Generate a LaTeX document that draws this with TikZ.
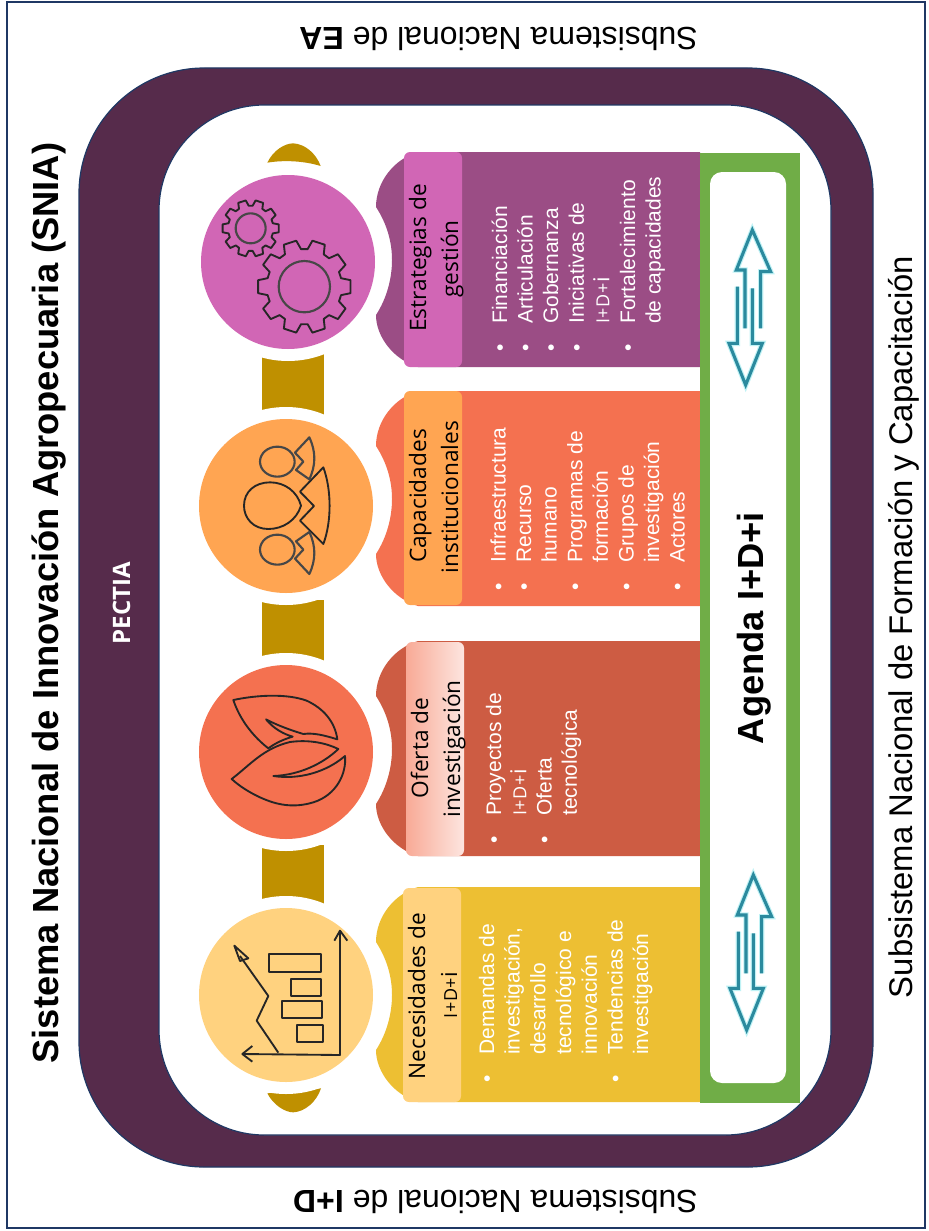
\documentclass[tikz,border=0pt]{standalone}
\usepackage{fontspec}
\setmainfont{Liberation Sans}
\newfontfamily\opensans{Open Sans}
\definecolor{navy}{HTML}{1F3864}
\definecolor{plum}{HTML}{562B4B}
\definecolor{gold}{HTML}{BF9000}
\definecolor{yelCard}{HTML}{EDBF33}
\definecolor{yelHead}{HTML}{FFD27F}
\definecolor{redCard}{HTML}{CD5C43}
\definecolor{redCirc}{HTML}{F47150}
\definecolor{orgHead}{HTML}{FFA552}
\definecolor{purCard}{HTML}{9B4D85}
\definecolor{purHead}{HTML}{D166B5}
\definecolor{grn}{HTML}{70AD47}
\definecolor{teal1}{HTML}{2B8A9E}
\definecolor{glow}{HTML}{BFF2F5}
\definecolor{ink}{HTML}{262626}
\newcommand{\idi}{{\opensans\fontsize{13.5pt}{14pt}\selectfont I\kern.4pt+\kern.4pt D\kern.4pt+\kern.4pt\fontsize{16.5pt}{14pt}\selectfont i}}
\newcommand{\bul}{\llap{•\hspace{15.5pt}}}
\newcommand{\cardshape}[2]{%
  \fill[#1] (700,#2) -- (418,#2) .. controls (394,{#2+7}) and (376,{#2+30}) .. (376,{#2+55})
    .. controls (387,{#2+72}) and (392,{#2+90}) .. (392,{#2+108})
    .. controls (392,{#2+126}) and (387,{#2+146}) .. (376,{#2+163})
    .. controls (376,{#2+185}) and (394,{#2+208}) .. (418,{#2+215}) -- (700,{#2+215}) -- cycle;}
\newcommand{\ringdisc}[3]{%
  \fill[white] (#1,#2) circle (99);
  \fill[#3] (#1,#2) circle (87);}
\newcommand{\gearicon}[4]{%
  \draw[iconline] ({#1+#3*cos(-13)},{#2-#3*sin(-13)}) \foreach \a in {0,36,...,324} {
     -- ({#1+#3*cos(\a-13)},{#2-#3*sin(\a-13)}) -- ({#1+#4*cos(\a-8)},{#2-#4*sin(\a-8)})
     -- ({#1+#4*cos(\a+8)},{#2-#4*sin(\a+8)}) -- ({#1+#3*cos(\a+13)},{#2-#3*sin(\a+13)}) } -- cycle;}
\newcommand{\arrowicon}[2]{%
  \begin{scope}[shift={(#1,#2)},x=.25pt,y=-.25pt]
    \foreach \c/\w in {glow/4pt,teal1/2.3pt}{
      \draw[\c,line width=\w,line join=miter] (138,310) -- (138,135) -- (112,135) -- (160,15) -- (215,140) -- (185,140) -- (185,310);
      \draw[\c,line width=\w,line join=miter] (115,185) -- (115,355) -- (90,355) -- (140,480) -- (190,355) -- (160,355) -- (160,190);
    }
  \end{scope}}
\tikzset{
  bodytxt/.style={rotate=90,anchor=base west,inner sep=0pt,text=white,font=\fontsize{15.75pt}{18pt}\selectfont},
  headtxt/.style={rotate=90,anchor=base,inner sep=0pt,text=black,font=\opensans\fontsize{17pt}{20pt}\selectfont},
  bigtxt/.style={inner sep=0pt,text=black,font=\fontsize{24pt}{26pt}\selectfont},
  titletxt/.style={rotate=90,anchor=base,inner sep=0pt,text=black,font=\bfseries\fontsize{27.25pt}{30pt}\selectfont},
  iconline/.style={draw=ink,line width=1.4pt,line join=round,fill=none},
  softline/.style={draw=ink!85,line width=1.6pt,line join=round,fill=none}
}
\begin{document}
\begin{tikzpicture}[x=.75pt,y=-.75pt]
\useasboundingbox (0,0) rectangle (928,1231);
% frame
\draw[navy,line width=1.1pt] (7,2) rectangle (925,1228);
% outer band
\draw[navy,line width=.9pt,fill=plum,rounded corners=94pt] (79,68) rectangle (873,1167);
\draw[navy,line width=.9pt,fill=white,rounded corners=79pt] (159,105) rectangle (831,1135);
% gold links and caps
\fill[gold] (262,350) rectangle (324,420);
\fill[gold] (262,600) rectangle (324,665);
\fill[gold] (262,845) rectangle (324,910);
\begin{scope}[shift={(190,130)},x=.25pt,y=-.25pt]
  \fill[gold] (232,98) .. controls (250,60) and (285,40) .. (310,40) .. controls (345,42) and (378,70) .. (392,108) .. controls (340,92) and (280,90) .. (232,98) -- cycle;
\end{scope}
\begin{scope}[shift={(190,880)},x=.25pt,y=-.25pt]
  \fill[gold] (232,640) .. controls (250,675) and (285,697) .. (310,697) .. controls (345,695) and (380,665) .. (393,625) -- cycle;
\end{scope}
% discs
\ringdisc{288}{262}{purHead}
\ringdisc{286}{506}{orgHead}
\ringdisc{286}{752}{redCirc}
\ringdisc{286}{995}{yelHead}
% cards
\cardshape{purCard}{152}
\cardshape{redCirc}{391}
\cardshape{redCard}{641}
\cardshape{yelCard}{887}
% header boxes
\fill[purHead,rounded corners=4.5pt] (404,152) rectangle (462,367);
\fill[orgHead,rounded corners=4.5pt] (404,391) rectangle (462,605);
\shade[left color=redCirc!60!white,right color=redCirc!18!white,rounded corners=4.5pt] (406,642) rectangle (464,856);
\fill[yelHead,rounded corners=4.5pt] (403,888) rectangle (461,1102);
% header text
\node[headtxt] (h1a) at (425,996) {Necesidades de};
\node[headtxt] (h1b) at (457,995) {\idi};
\node[headtxt] (h2a) at (428,748) {Oferta de};
\node[headtxt] (h2b) at (460,749) {investigación};
\node[headtxt] (h3a) at (426,496) {Capacidades};
\node[headtxt] (h3b) at (458,497) {institucionales};
\node[headtxt] (h4a) at (426,258) {Estrategias de};
\node[headtxt] (h4b) at (458,259) {gestión};
% body text
\foreach \t [count=\i from 0] in {\bul Demandas de,{investigación,},desarrollo,tecnológico e,innovación,\bul Tendencias de,investigación}
  \node[bodytxt] (yel\i) at ({494+25.7*\i},1055) {\t};
\foreach \t [count=\i from 0] in {\bul Proyectos de,\idi,\bul Oferta,tecnológica}
  \node[bodytxt] (red\i) at ({501+25.3*\i},816) {\t};
\foreach \t [count=\i from 0] in {\bul Infraestructura,\bul Recurso,humano,\bul Programas de,formación,\bul Grupos de,investigación,\bul Actores}
  \node[bodytxt] (org\i) at ({505.5+25.6*\i},563) {\t};
\foreach \t [count=\i from 0] in {\bul Financiación,\bul Articulación,\bul Gobernanza,\bul Iniciativas de,\idi,\bul Fortalecimiento,de capacidades}
  \node[bodytxt] (pur\i) at ({507+25.6*\i},324) {\t};
% agenda
\fill[grn] (700,153) rectangle (800,1103);
\fill[white,rounded corners=9pt] (710,172) rectangle (786,1083);
\arrowicon{699}{225}
\arrowicon{700}{870}
\node[titletxt] (agenda) at (763,628) {Agenda I+D+i};
% outer labels
\node[titletxt] (title) at (58,603) {Sistema Nacional de Innovación Agropecuaria (SNIA)};
\node[rotate=90,anchor=base,inner sep=0pt,text=white,font=\opensans\bfseries\fontsize{18pt}{20pt}\selectfont] (pectia) at (130,603) {PECTIA};
\node[bigtxt,rotate=180,anchor=base west] (sea) at (698,28) {Subsistema Nacional de \textbf{EA}};
\node[bigtxt,rotate=180,anchor=base west] (sid) at (698,1190) {Subsistema Nacional de \textbf{I+D}};
\node[bigtxt,rotate=90,anchor=base,font=\fontsize{24.6pt}{26pt}\selectfont] (sfc) at (912,627) {Subsistema Nacional de Formación y Capacitación};
% chart icon
\begin{scope}[shift={(190,880)},x=.25pt,y=-.25pt]
  \draw[iconline] (157,522) -- (450,525) -- (450,155);
  \draw[iconline] (187,498) -- (157,522) -- (187,545);
  \draw[iconline] (433,182) -- (450,152) -- (472,182);
  \draw[iconline] (238,222) rectangle (392,276);
  \draw[iconline] (302,296) rectangle (393,348);
  \draw[iconline] (276,362) rectangle (395,414);
  \draw[iconline] (322,434) rectangle (398,487);
  \draw[iconline] (265,518) -- (200,422) -- (235,348) -- (150,228);
  \draw[iconline] (133,197) -- (175,235) -- (150,243) -- cycle;
\end{scope}
% leaves icon
\begin{scope}[shift={(190,640)},x=.25pt,y=-.25pt]
  \draw[iconline] (130,180) .. controls (200,165) and (290,160) .. (350,182) .. controls (400,205) and (435,245) .. (442,298)
     .. controls (400,285) and (370,278) .. (340,282) .. controls (300,270) and (260,255) .. (228,238)
     .. controls (250,265) and (280,282) .. (308,290) .. controls (280,298) and (255,310) .. (235,325)
     .. controls (190,290) and (150,240) .. (130,180) -- cycle;
  \draw[iconline] (125,417) .. controls (180,375) and (220,325) .. (300,306) .. controls (360,298) and (410,310) .. (445,327)
     .. controls (400,370) and (330,405) .. (250,408) .. controls (330,420) and (410,395) .. (465,348)
     .. controls (470,400) and (440,465) .. (370,487) .. controls (310,505) and (260,495) .. (210,472)
     .. controls (180,458) and (150,440) .. (125,417) -- cycle;
\end{scope}
% people icon
\begin{scope}[shift={(190,390)},x=.25pt,y=-.25pt]
  \draw[iconline] (333,347) .. controls (320,390) and (280,417) .. (235,417) .. controls (190,417) and (162,385) .. (162,347)
     .. controls (162,305) and (195,277) .. (240,277) .. controls (285,277) and (322,305) .. (333,347) -- cycle;
  \draw[iconline] (400,232) .. controls (425,300) and (425,395) .. (400,462) -- (330,392) -- (372,348) -- (330,305) -- cycle;
  \foreach \m in {0,694}{
    \pgfmathsetmacro\ys{\m==0 ? 1 : -1}
    \begin{scope}[yshift={-\m*.25pt},yscale=\ys]
      \draw[softline] (262,215) ellipse (52 and 45);
      \draw[softline] (358,142) .. controls (378,185) and (378,225) .. (358,268) -- (318,240) -- (340,215) -- (315,188) -- cycle;
    \end{scope}
  }
\end{scope}
% gears icon
\begin{scope}[shift={(190,130)},x=.25pt,y=-.25pt]
  \gearicon{343}{470}{113}{140}
  \draw[softline] (343,470) circle (77);
  \gearicon{182}{295}{68}{85}
  \draw[softline] (182,295) circle (45);
\end{scope}
\end{tikzpicture}
\end{document}
